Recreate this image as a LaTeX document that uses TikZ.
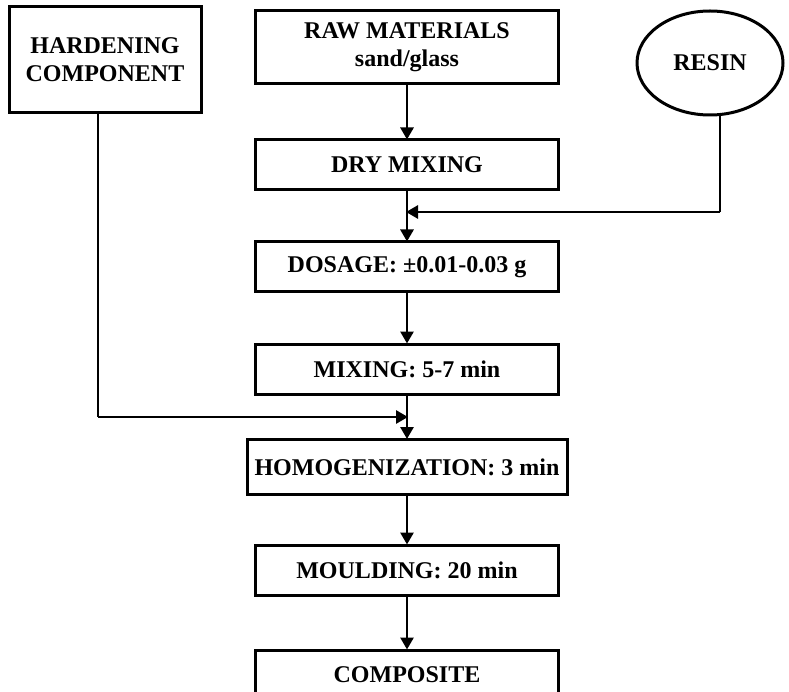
\documentclass[tikz,border=0pt]{standalone}
\usepackage{fontspec}
\setmainfont{Liberation Serif}
\usetikzlibrary{arrows.meta,shapes.geometric}
\tikzset{
  stage/.style={draw, line width=3pt, minimum width=303pt, minimum height=50pt,
    inner sep=2pt, align=center, font=\fontsize{24}{28}\selectfont\bfseries},
  line/.style={line width=2.8pt},
  arr/.style={line width=2.8pt, -{Triangle[length=12pt,width=13pt]}, shorten >=-1pt},
}
\begin{document}
\begin{tikzpicture}[x=1pt, y=-1pt]
  \useasboundingbox (0,0) rectangle (789,692);
  % inputs
  \node[stage, minimum width=192pt, minimum height=106pt] (harden) at (105,60)
    {HARDENING\\COMPONENT};
  \node[stage, minimum height=73pt] (raw) at (407,47)
    {RAW MATERIALS\\sand/glass};
  \node[draw, ellipse, line width=3pt, minimum width=146pt, minimum height=104pt,
    font=\fontsize{24}{28}\selectfont\bfseries] (resin) at (710,63) {RESIN};
  % process column
  \node[stage] (dry) at (407,165) {DRY MIXING};
  \node[stage] (dosage) at (407,267) {DOSAGE: ±0.01-0.03 g};
  \node[stage] (mixing) at (407,369) {MIXING: 5-7 min};
  \node[stage, minimum width=320pt, minimum height=55pt] (homog) at (407,467)
    {HOMOGENIZATION: 3 min};
  \node[stage] (mould) at (407,570) {MOULDING: 20 min};
  \node[stage] (comp) at (407,675) {COMPOSITE};
  % connectors
  \draw[arr] (raw) -- (dry);
  \coordinate (resinbend) at (720,212);
  \draw[line] (resin.south -| resinbend) -- (resinbend);
  \draw[arr] (resinbend) -- (resinbend -| dry.south);
  \draw[arr] (dry) -- (dosage);
  \draw[arr] (dosage) -- (mixing);
  \coordinate (hardbend) at (98,417);
  \draw[line] (harden.south -| hardbend) -- (hardbend);
  \draw[arr] (hardbend) -- (hardbend -| mixing.south);
  \draw[arr] (mixing) -- (homog);
  \draw[arr] (homog) -- (mould);
  \draw[arr] (mould) -- (comp);
\end{tikzpicture}
\end{document}
